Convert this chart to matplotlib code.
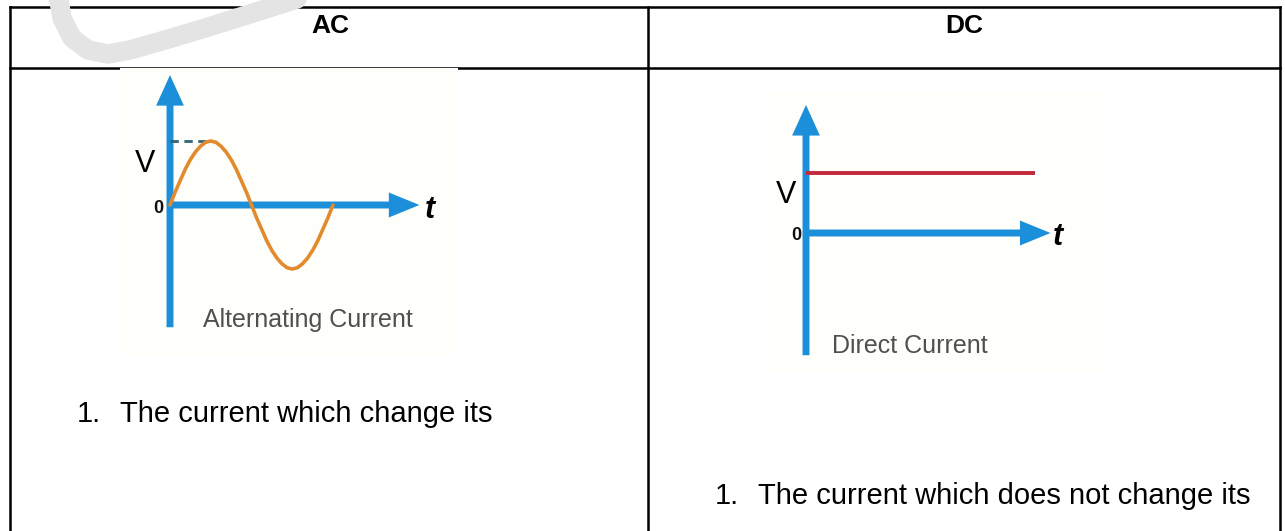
import matplotlib
matplotlib.use("Agg")
import matplotlib.pyplot as plt
from matplotlib.patches import FancyArrowPatch, ArrowStyle

plt.rcParams['font.family'] = ['Liberation Sans', 'DejaVu Sans']

W, H = 1285, 531

headers = ["AC", "DC"]
captions = ["Alternating Current", "Direct Current"]
point_texts = ["The current which change its", "The current which does not change its"]

# AC wave, one value every 1/32 of a period (V / peak)
ac_v = [0.0, 0.20, 0.38, 0.56, 0.71, 0.83, 0.92, 0.98, 1.0, 0.98, 0.92, 0.83, 0.71, 0.56, 0.38, 0.20, 0.0,
        -0.20, -0.38, -0.56, -0.71, -0.83, -0.92, -0.98, -1.0, -0.98, -0.92, -0.83, -0.71, -0.56, -0.38, -0.20, 0.0]
ac_t = [i / 32 for i in range(len(ac_v))]
ac_peak_t = 0.25
ac_peak_v = 1.0

# DC level
dc_t = [0.0, 1.405]
dc_v = [0.94, 0.94]

BLUE = '#1c8fda'
ORANGE = '#e38b2c'
RED = '#c4283a'
GREY_TXT = '#505050'
LW_TABLE = 1.8

fig = plt.figure(figsize=(W / 100, H / 100), dpi=100)
ax = fig.add_axes([0, 0, 1, 1])
ax.set_xlim(0, W)
ax.set_ylim(H, 0)
ax.axis('off')

# table grid
ax.plot([9.5, 1280], [6.5, 6.5], color='black', lw=LW_TABLE, solid_capstyle='projecting')
ax.plot([9.5, 1280], [68, 68], color='black', lw=LW_TABLE)
for x in [9.5, 648, 1280]:
    ax.plot([x, x], [6.5, H], color='black', lw=LW_TABLE)

# watermark stroke
wm_x = [58, 62, 72, 88, 108, 130, 165, 205, 250, 300]
wm_y = [-5, 18, 38, 50, 54, 50, 40, 28, 14, -2]
ax.plot(wm_x, wm_y, color='#e4e4e4', lw=14, solid_capstyle='round', solid_joinstyle='round', zorder=5)

# headers and first points
ax.text(330, 33, headers[0], ha='center', va='baseline', fontsize=19, fontweight='bold')
ax.text(964, 33, headers[1], ha='center', va='baseline', fontsize=19, fontweight='bold')
ax.text(77, 422, "1.", ha='left', va='baseline', fontsize=21)
ax.text(120, 422, point_texts[0], ha='left', va='baseline', fontsize=21)
ax.text(715, 504, "1.", ha='left', va='baseline', fontsize=21)
ax.text(758, 504, point_texts[1], ha='left', va='baseline', fontsize=21)


def diagram(box, origin, sx=163, sy=64):
    x0, y0, x1, y1 = box
    a = fig.add_axes([x0 / W, 1 - y1 / H, (x1 - x0) / W, (y1 - y0) / H])
    a.set_xlim((x0 - origin[0]) / sx, (x1 - origin[0]) / sx)
    a.set_ylim((origin[1] - y1) / sy, (origin[1] - y0) / sy)
    a.set_xticks([])
    a.set_yticks([])
    for s in a.spines.values():
        s.set_visible(False)
    a.set_facecolor('#fefefb')
    return a


def axis_arrows(a, v_lo, v_hi, t_hi):
    vert = FancyArrowPatch((0, v_lo), (0, v_hi), mutation_scale=1, shrinkA=0, shrinkB=0,
                           arrowstyle=ArrowStyle.Simple(head_length=22, head_width=20, tail_width=5),
                           color=BLUE, lw=0, zorder=2)
    horiz = FancyArrowPatch((0, 0), (t_hi, 0), mutation_scale=1, shrinkA=0, shrinkB=0,
                            arrowstyle=ArrowStyle.Simple(head_length=22, head_width=18, tail_width=5),
                            color=BLUE, lw=0, zorder=2)
    a.add_patch(vert)
    a.add_patch(horiz)


# AC picture
ac = diagram((120, 68, 458, 355), (170, 205))
axis_arrows(ac, -1.91, 2.03, 1.53)
ac.plot([0, ac_peak_t], [ac_peak_v, ac_peak_v], color='#2f6676', lw=2, ls=(0, (3, 2)), zorder=3)
ac.plot(ac_t, ac_v, color=ORANGE, lw=2.6, solid_joinstyle='round', solid_capstyle='round', zorder=4)
ac.text(-0.153, 0.516, "V", ha='center', va='baseline', fontsize=22, color='black')
ac.text(-0.074, -0.13, "0", ha='center', va='baseline', fontsize=13, fontweight='bold', color='#111111')
ac.text(1.564, -0.2, "t", ha='left', va='baseline', fontsize=22, fontweight='bold', fontstyle='italic')
ac.text(0.844, -1.906, captions[0], ha='center', va='baseline', fontsize=18, color=GREY_TXT)

# DC picture
dc = diagram((767, 92, 1103, 372), (806, 233))
axis_arrows(dc, -1.91, 2.0, 1.50)
dc.plot(dc_t, dc_v, color=RED, lw=2.8, solid_capstyle='butt', zorder=4)
dc.text(-0.12, 0.47, "V", ha='center', va='baseline', fontsize=22, color='black')
dc.text(-0.061, -0.11, "0", ha='center', va='baseline', fontsize=13, fontweight='bold', color='#111111')
dc.text(1.515, -0.19, "t", ha='left', va='baseline', fontsize=22, fontweight='bold', fontstyle='italic')
dc.text(0.638, -1.875, captions[1], ha='center', va='baseline', fontsize=18, color=GREY_TXT)

fig.savefig("out.png", dpi=100)
